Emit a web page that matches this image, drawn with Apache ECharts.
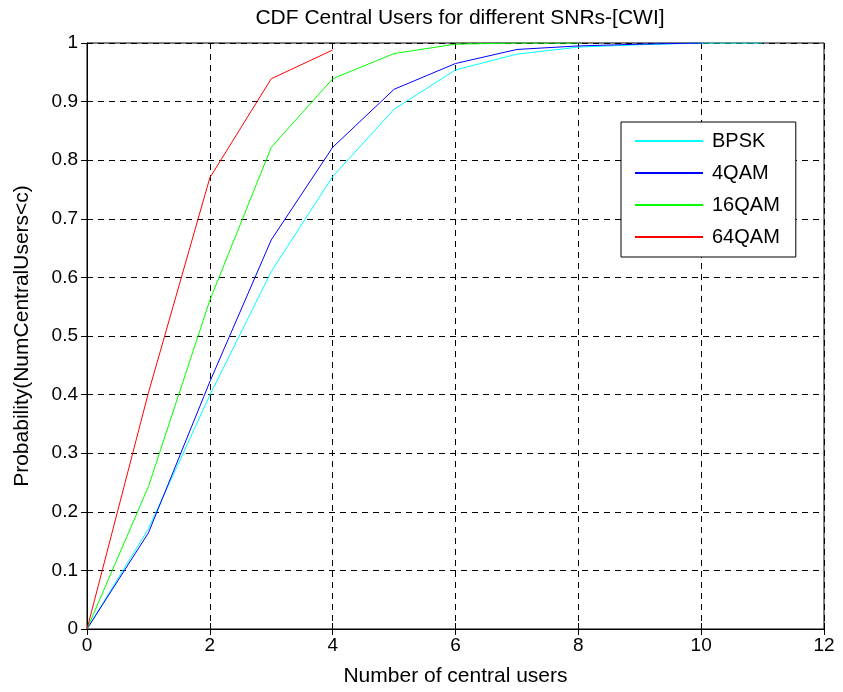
<!DOCTYPE html>
<html>
<head>
<meta charset="utf-8">
<script src="https://cdn.jsdelivr.net/npm/echarts@6/dist/echarts.min.js"></script>
<style>html,body{margin:0;padding:0;background:#fff}#c{width:843px;height:692px}</style>
</head>
<body>
<div id="c"></div>
<script>
const seriesNames = ['BPSK', '4QAM', '16QAM', '64QAM'];
const seriesColors = ['#00FFFF', '#0000FF', '#00FF00', '#FF0000'];
const xBPSK = [0, 1, 2, 3, 4, 5, 6, 7, 8, 9, 10, 11];
const yBPSK = [0, 0.171, 0.399, 0.610, 0.772, 0.887, 0.954, 0.981, 0.993, 0.997, 1.0, 1.0];
const x4QAM = [0, 1, 2, 3, 4, 5, 6, 7, 8, 9, 10];
const y4QAM = [0, 0.164, 0.422, 0.664, 0.822, 0.921, 0.965, 0.989, 0.995, 0.998, 1.0];
const x16QAM = [0, 1, 2, 3, 4, 5, 6, 7, 8];
const y16QAM = [0, 0.243, 0.561, 0.822, 0.939, 0.982, 0.998, 1.0, 1.0];
const x64QAM = [0, 1, 2, 3, 4];
const y64QAM = [0, 0.403, 0.770, 0.939, 0.988];

const xs = [xBPSK, x4QAM, x16QAM, x64QAM];
const ys = [yBPSK, y4QAM, y16QAM, y64QAM];

const font = 'Liberation Sans, Arial, sans-serif';
const chart = echarts.init(document.getElementById('c'));
const gridLine = {show: true, lineStyle: {color: '#000', type: [6, 5], width: 1}};
chart.setOption({
  animation: false,
  backgroundColor: '#fff',
  title: {
    text: 'CDF Central Users for different SNRs-[CWI]',
    left: 455, top: 3, textAlign: 'center',
    textStyle: {fontFamily: font, fontSize: 21, fontWeight: 'normal', color: '#000'}
  },
  grid: {left: 87, right: 19, top: 43, bottom: 63, show: true, borderColor: '#000', borderWidth: 1, backgroundColor: 'transparent'},
  legend: {
    show: true,
    orient: 'vertical',
    left: 621, top: 122,
    itemWidth: 68, itemHeight: 2, itemGap: 12,
    padding: [9, 16, 10, 14],
    borderColor: '#000', borderWidth: 1, backgroundColor: '#fff',
    icon: 'rect',
    textStyle: {fontFamily: font, fontSize: 20, color: '#000', padding: [0, 0, 0, 4]},
    data: seriesNames
  },
  xAxis: [{
    type: 'value', min: 0, max: 12, interval: 2,
    axisLine: {show: true, lineStyle: {color: '#000'}},
    axisTick: {show: true, inside: true, length: 6, lineStyle: {color: '#000'}},
    axisLabel: {fontFamily: font, fontSize: 19, color: '#000', margin: 7},
    splitLine: gridLine,
    name: 'Number of central users', nameLocation: 'middle', nameGap: 37,
    nameTextStyle: {fontFamily: font, fontSize: 21, color: '#000'}
  }, {
    type: 'value', min: 0, max: 12, interval: 2, position: 'top',
    axisLine: {show: true, lineStyle: {color: '#000'}},
    axisTick: {show: true, inside: true, length: 6, lineStyle: {color: '#000'}},
    axisLabel: {show: false}, splitLine: {show: false}
  }],
  yAxis: [{
    type: 'value', min: 0, max: 1, interval: 0.1,
    axisLine: {show: true, lineStyle: {color: '#000'}},
    axisTick: {show: true, inside: true, length: 6, lineStyle: {color: '#000'}},
    axisLabel: {fontFamily: font, fontSize: 19, color: '#000', margin: 9,
      formatter: v => (Math.round(v * 10) / 10).toString()},
    splitLine: gridLine,
    name: 'Probability(NumCentralUsers<c)', nameLocation: 'middle', nameGap: 54,
    nameTextStyle: {fontFamily: font, fontSize: 21, color: '#000'}
  }, {
    type: 'value', min: 0, max: 1, interval: 0.1, position: 'right',
    axisLine: {show: true, lineStyle: {color: '#000'}},
    axisTick: {show: true, inside: true, length: 6, lineStyle: {color: '#000'}},
    axisLabel: {show: false}, splitLine: {show: false}
  }],
  series: seriesNames.map((n, i) => ({
    name: n, type: 'line', xAxisIndex: 0, yAxisIndex: 0,
    data: xs[i].map((x, j) => [x, ys[i][j]]),
    showSymbol: false, symbol: 'none',
    lineStyle: {color: seriesColors[i], width: 1},
    itemStyle: {color: seriesColors[i]}
  }))
});
</script>
</body>
</html>
